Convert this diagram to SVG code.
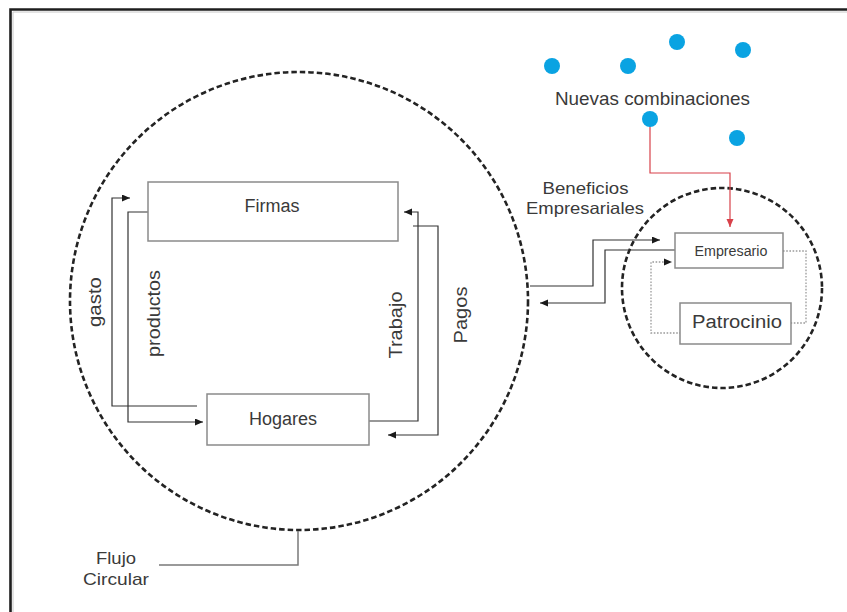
<svg xmlns="http://www.w3.org/2000/svg" width="847" height="612" viewBox="0 0 847 612">
  <defs>
    <marker id="arrow" markerUnits="userSpaceOnUse" markerWidth="9" markerHeight="8" refX="8" refY="3.5" orient="auto">
      <path d="M0,0 L8,3.5 L0,7 z" fill="#1a1a1a"/>
    </marker>
    <marker id="arrow-red" markerUnits="userSpaceOnUse" markerWidth="9" markerHeight="8" refX="8" refY="3.5" orient="auto">
      <path d="M0,0 L8,3.5 L0,7 z" fill="#d8414a"/>
    </marker>
    <style>
      .txt { font-family: "Liberation Sans", Arial, sans-serif; fill: #3a3a3a; text-anchor: middle; }
      .box { fill: #ffffff; stroke: #8a8a8a; stroke-width: 1.5; }
      .zone { fill: none; stroke: #232323; stroke-width: 2.6; stroke-dasharray: 5.5 3; }
      .flow { fill: none; stroke: #333333; stroke-width: 1.2; }
      .dot-link { fill: none; stroke: #9a9a9a; stroke-width: 1.3; stroke-dasharray: 1.6 1.6; }
      .red-link { fill: none; stroke: #d8414a; stroke-width: 1.2; }
      .idea { fill: #0aa3e2; }
      .leader { fill: none; stroke: #7a7a7a; stroke-width: 1.5; }
    </style>
  </defs>

  <!-- page frame (top and left edges) -->
  <g id="frame">
    <rect x="0" y="0" width="847" height="612" fill="#ffffff"/>
    <path d="M10.5,612 V9.5 H847" fill="none" stroke="#1e1e1e" stroke-width="2.6"/>
    <path d="M13,612 V12 H847" fill="none" stroke="#c8c8c8" stroke-width="1"/>
  </g>

  <!-- circular flow zone -->
  <g id="flujo-circular">
    <circle class="zone" cx="299" cy="301" r="229"/>
    <path class="leader" d="M298,531 V565 H159"/>
    <text class="txt" x="116" y="564" font-size="17" textLength="40" lengthAdjust="spacingAndGlyphs">Flujo</text>
    <text class="txt" x="116" y="585" font-size="17" textLength="66" lengthAdjust="spacingAndGlyphs">Circular</text>
  </g>

  <!-- entrepreneur zone -->
  <g id="zona-empresario">
    <circle class="zone" cx="722" cy="288" r="100"/>
  </g>

  <!-- connectors -->
  <g id="connectors">
    <!-- gasto: Hogares -> Firmas -->
    <path class="flow" d="M197,406 H112 V198 H130" marker-end="url(#arrow)"/>
    <!-- productos: Firmas -> Hogares -->
    <path class="flow" d="M148,212 H128 V422 H203" marker-end="url(#arrow)"/>
    <!-- trabajo: Hogares -> Firmas -->
    <path class="flow" d="M369,421 H418 V212 H404" marker-end="url(#arrow)"/>
    <!-- pagos: Firmas -> Hogares -->
    <path class="flow" d="M413,226 H438 V435 H388" marker-end="url(#arrow)"/>
    <!-- beneficios empresariales -->
    <path class="flow" d="M530,286 H593 V240 H660" marker-end="url(#arrow)"/>
    <path class="flow" d="M675,250 H605 V303 H540" marker-end="url(#arrow)"/>
    <!-- nuevas combinaciones -> empresario -->
    <path class="red-link" d="M650,120 V173 H730 V227" marker-end="url(#arrow-red)"/>
    <!-- empresario <-> patrocinio -->
    <path class="dot-link" d="M783,251 H806 V323 H791"/>
    <path class="dot-link" d="M681,333 H651 V262 H665"/>
    <path d="M664,258.5 L672,262 L664,265.5 z" fill="#1a1a1a"/>
  </g>

  <!-- flow labels -->
  <g id="labels">
    <text class="txt" font-size="18" transform="translate(101,302) rotate(-90)" textLength="50" lengthAdjust="spacingAndGlyphs">gasto</text>
    <text class="txt" font-size="18" transform="translate(160,313.5) rotate(-90)" textLength="87" lengthAdjust="spacingAndGlyphs">productos</text>
    <text class="txt" font-size="18" transform="translate(402,325) rotate(-90)" textLength="67" lengthAdjust="spacingAndGlyphs">Trabajo</text>
    <text class="txt" font-size="18" transform="translate(467,315) rotate(-90)" textLength="57" lengthAdjust="spacingAndGlyphs">Pagos</text>
    <text class="txt" x="585.5" y="194" font-size="16.5" textLength="86" lengthAdjust="spacingAndGlyphs">Beneficios</text>
    <text class="txt" x="585" y="214" font-size="16.5" textLength="118" lengthAdjust="spacingAndGlyphs">Empresariales</text>
  </g>

  <g id="firmas">
    <rect class="box" x="148" y="182" width="250" height="59"/>
    <text class="txt" x="272" y="212" font-size="18">Firmas</text>
  </g>

  <g id="hogares">
    <rect class="box" x="207" y="394" width="162" height="51"/>
    <text class="txt" x="283" y="425" font-size="18">Hogares</text>
  </g>

  <g id="empresario">
    <rect class="box" x="675" y="233" width="108" height="35"/>
    <text class="txt" x="731" y="256" font-size="14" textLength="73" lengthAdjust="spacingAndGlyphs">Empresario</text>
  </g>

  <g id="patrocinio">
    <rect class="box" x="680" y="303" width="111" height="41"/>
    <text class="txt" x="737" y="328" font-size="18" textLength="90" lengthAdjust="spacingAndGlyphs">Patrocinio</text>
  </g>

  <g id="nuevas-combinaciones">
    <circle class="idea" cx="552" cy="66" r="8"/>
    <circle class="idea" cx="628" cy="66" r="8"/>
    <circle class="idea" cx="677" cy="42" r="8"/>
    <circle class="idea" cx="743" cy="50" r="8"/>
    <circle class="idea" cx="650" cy="119" r="8"/>
    <circle class="idea" cx="737" cy="138" r="8"/>
    <text class="txt" x="652.5" y="105" font-size="19" textLength="195" lengthAdjust="spacingAndGlyphs">Nuevas combinaciones</text>
  </g>
</svg>
